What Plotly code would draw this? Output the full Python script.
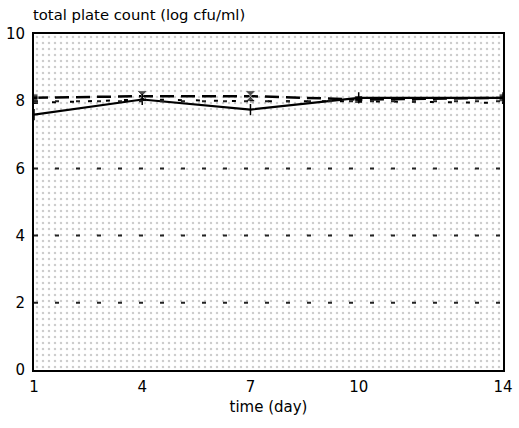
import plotly.graph_objects as go

days = [1, 4, 7, 10, 14]
series_solid = [7.6, 8.05, 7.75, 8.1, 8.1]
series_dash = [8.1, 8.15, 8.15, 8.05, 8.1]
series_dot = [7.95, 8.05, 8.0, 8.0, 7.95]

x_ticks = [1, 4, 7, 10, 14]
y_ticks = [0, 2, 4, 6, 8, 10]
grid_levels = [2, 4, 6, 8]
x_range = [1, 14]
y_range = [0, 10]

fig = go.Figure()

# stippled background of the plot area
fig.add_trace(go.Scatter(
    x=[x_range[0], x_range[1], x_range[1], x_range[0], x_range[0]],
    y=[y_range[0], y_range[0], y_range[1], y_range[1], y_range[0]],
    mode="none", fill="toself", fillcolor="white",
    fillpattern=dict(shape=".", fgcolor="#999999", bgcolor="white", size=6, solidity=0.13),
    hoverinfo="skip", showlegend=False,
))

fig.add_trace(go.Scatter(
    x=days, y=series_dot, mode="lines",
    line=dict(color="black", width=2, dash="4px,14px"),
    showlegend=False,
))
fig.add_trace(go.Scatter(
    x=days, y=series_dash, mode="lines+markers",
    line=dict(color="black", width=2.5, dash="14px,7px"),
    marker=dict(symbol=["square", "hourglass", "hourglass", "square", "square"],
                size=[8, 11, 11, 8, 8], color="black"),
    showlegend=False,
))
fig.add_trace(go.Scatter(
    x=days, y=series_solid, mode="lines+markers",
    line=dict(color="black", width=2.2),
    marker=dict(symbol="line-ns", size=8, line=dict(color="black", width=1.5)),
    showlegend=False,
))

shapes = [dict(type="line", xref="paper", yref="y", x0=0, x1=1, y0=g, y1=g,
               line=dict(color="#222222", width=2, dash="4px,17px"), layer="above")
          for g in grid_levels]

fig.update_layout(
    width=519, height=428,
    margin=dict(l=34, r=16, t=34, b=58, autoexpand=False),
    paper_bgcolor="white", plot_bgcolor="white",
    font=dict(family="DejaVu Sans, Verdana, sans-serif", color="black", size=15),
    shapes=shapes,
    title=dict(
        text="total plate count (log cfu/ml)", x=33 / 519, xanchor="left",
        xref="container", y=1 - 15 / 428, yanchor="middle", yref="container",
        font=dict(size=14.8),
    ),
    xaxis=dict(
        range=x_range, tickvals=x_ticks, ticktext=[str(v) for v in x_ticks],
        showgrid=False, zeroline=False, showline=True, linecolor="black",
        linewidth=2, mirror=True, ticks="", tickfont=dict(size=15),
        ticklabelstandoff=2, automargin=False,
        title=dict(text="time (day)", font=dict(size=15), standoff=6),
    ),
    yaxis=dict(
        range=y_range, tickvals=y_ticks, ticktext=[str(v) for v in y_ticks],
        showgrid=False, zeroline=False, showline=True, linecolor="black",
        linewidth=2, mirror=True, ticks="", tickfont=dict(size=15),
        ticklabelstandoff=4, automargin=False,
    ),
)

fig.write_html("out.html")
